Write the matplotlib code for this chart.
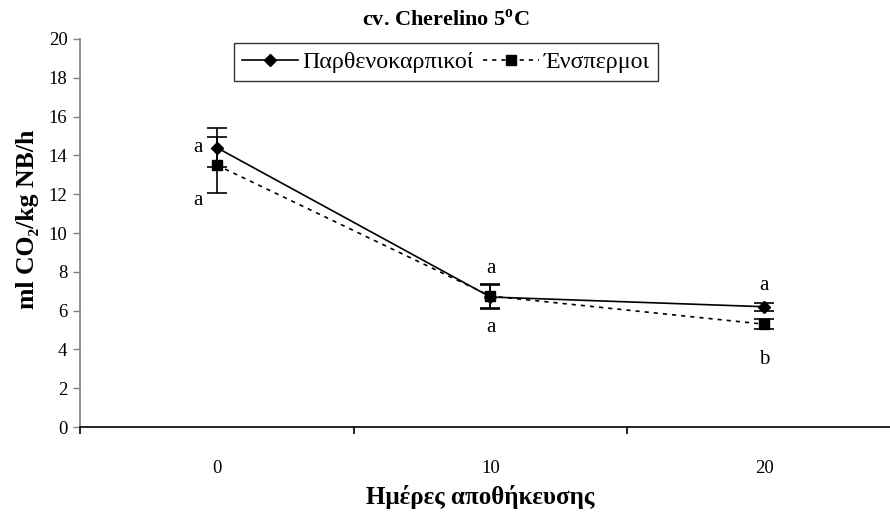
import matplotlib
matplotlib.use("Agg")
import matplotlib.pyplot as plt
from matplotlib.lines import Line2D
import numpy as np

plt.rcParams['font.family'] = ['Liberation Serif', 'DejaVu Serif']
plt.rcParams['mathtext.fontset'] = 'custom'
plt.rcParams['mathtext.rm'] = 'Liberation Serif'
plt.rcParams['mathtext.bf'] = 'Liberation Serif:bold'

days = ["0", "10", "20"]
parth = [14.4, 6.7, 6.2]
parth_err = [1.0, 0.6, 0.2]
ensp = [13.5, 6.75, 5.3]
ensp_err = [1.45, 0.6, 0.25]
labels_parth = ["a", "a", "a"]
labels_ensp = ["a", "a", "b"]
yticks = list(range(0, 21, 2))

fig = plt.figure(figsize=(8.9, 5.15), dpi=100)
ax = fig.add_axes([80/890, 1-427/515, (901-80)/890, (427-39)/515])
x = np.arange(len(days))

dash = (0, (2.5, 3))
ax.errorbar(x, parth, yerr=parth_err, color='black', lw=1.2, marker='D', ms=6,
            capsize=7, capthick=1.2, elinewidth=1.2)
ax.errorbar(x, ensp, yerr=ensp_err, color='black', lw=1.2, ls=dash, marker='s', ms=7,
            capsize=7, capthick=1.2, elinewidth=1.2)

# significance letters
fs_letter = 15
ax.text(x[0] - 0.07, parth[0], labels_parth[0], ha='center', va='center', fontsize=fs_letter)
ax.text(x[0] - 0.07, ensp[0] - 1.8, labels_ensp[0], ha='center', va='center', fontsize=fs_letter)
ax.text(x[1], parth[1] + 1.45, labels_parth[1], ha='center', va='center', fontsize=fs_letter)
ax.text(x[1], ensp[1] - 1.6, labels_ensp[1], ha='center', va='center', fontsize=fs_letter)
ax.text(x[2], parth[2] + 1.1, labels_parth[2], ha='center', va='center', fontsize=fs_letter)
ax.text(x[2], ensp[2] - 1.8, labels_ensp[2], ha='center', va='center', fontsize=fs_letter)

ax.set_xlim(-0.5, 2.5)
ax.set_ylim(0, 20)
ax.set_yticks(yticks)
ax.set_xticks(x)
ax.set_xticklabels(days)
ax.set_xticks([-0.5, 0.5, 1.5], minor=True)
ax.tick_params(axis='x', which='major', length=0, labelsize=13.5, pad=24)
ax.tick_params(axis='x', which='minor', length=5, width=1.2, direction='out', color='black')
ax.tick_params(axis='y', length=5, width=1, color='#808080', labelsize=13.5, direction='out', pad=4)
for s in ['top', 'right']:
    ax.spines[s].set_visible(False)
ax.spines['left'].set_color('#808080')
ax.spines['left'].set_linewidth(1.2)
ax.spines['bottom'].set_color('black')
ax.spines['bottom'].set_linewidth(1.2)

fig.text(446/890, 1-20/515, r'cv. Cherelino 5$^{\mathbf{o}}$C', ha='center', va='center',
         fontsize=16, fontweight='bold')
fig.text(480/890, 1-497/515, 'Ημέρες αποθήκευσης', ha='center', va='center',
         fontsize=18, fontweight='bold')
fig.text(28/890, 1-219/515, 'ml CO₂/kg NB/h', ha='center', va='center', rotation=90,
         fontsize=18.5, fontweight='bold')

handles = [Line2D([], [], color='black', lw=1.2, marker='D', ms=6),
           Line2D([], [], color='black', lw=1.2, ls=dash, marker='s', ms=7)]
leg = ax.legend(handles, ['Παρθενοκαρπικοί', 'Ένσπερμοι'], loc='center',
                bbox_to_anchor=((446-80)/(901-80), (427-62)/(427-39)), ncol=2,
                fontsize=17.3, frameon=True, fancybox=False, edgecolor='black',
                handlelength=2.3, columnspacing=0.4, handletextpad=0.2, borderpad=0.35)
leg.get_frame().set_linewidth(1.0)

fig.savefig('out.png', dpi=100)
